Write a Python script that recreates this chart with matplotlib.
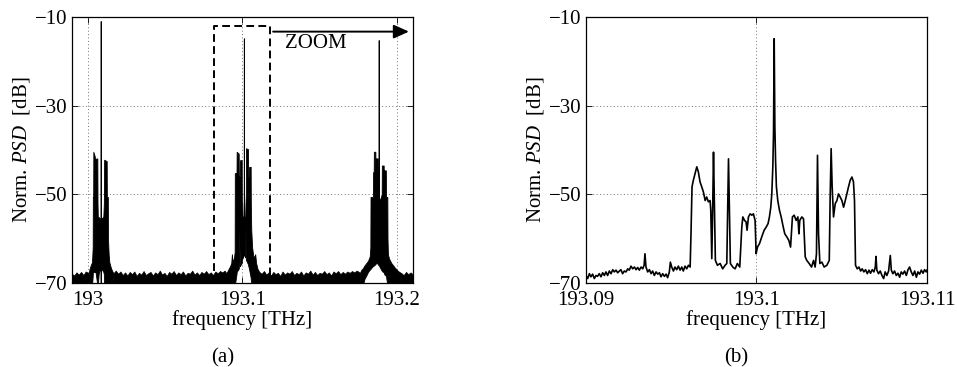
import matplotlib
matplotlib.use("Agg")
import matplotlib.pyplot as plt
import numpy as np

plt.rcParams['font.family'] = ['Liberation Serif', 'DejaVu Serif']
plt.rcParams['mathtext.fontset'] = 'custom'
plt.rcParams['mathtext.rm'] = 'Liberation Serif'
plt.rcParams['mathtext.it'] = 'Liberation Serif:italic'

# ---------------- data ----------------
# Panel (a): frequencies in GHz relative to 193 THz, PSD in dB
A_BASE_THZ = 193.0
# noise floor (top edge of the dense trace) segments: (GHz, dB)
a_floor1 = [(-10.5, -67.9), (-9.0, -68.3), (-7.5, -67.6), (-6.0, -68.1), (-4.5, -67.5),
            (-3.0, -68.2), (-1.5, -67.4), (0.0, -67.7), (0.4, -68.0)]
a_floor2 = [(16.4, -67.8), (18.0, -67.2), (19.5, -67.9), (21.0, -67.4), (22.5, -68.2),
            (24.0, -67.6), (25.5, -68.3), (27.0, -67.5), (28.5, -68.0), (30.0, -67.4),
            (31.5, -68.4), (33.0, -67.7), (34.5, -68.1), (36.0, -67.3), (37.5, -68.2),
            (39.0, -67.8), (40.5, -67.5), (42.0, -68.3), (43.5, -67.6), (45.0, -68.0),
            (46.5, -67.2), (48.0, -68.1), (49.5, -67.7), (51.0, -68.4), (52.5, -67.5),
            (54.0, -67.9), (55.5, -67.3), (57.0, -68.2), (58.5, -67.6), (60.0, -68.0),
            (61.5, -67.4), (63.0, -68.3), (64.5, -67.7), (66.0, -67.9), (67.5, -67.2),
            (69.0, -68.1), (70.5, -67.6), (72.0, -68.2), (73.5, -67.5), (75.0, -67.9),
            (76.5, -67.3), (78.0, -68.0), (79.5, -67.6), (81.0, -68.2), (82.5, -67.4),
            (84.0, -67.8), (85.5, -67.3), (87.0, -67.6), (88.5, -67.2), (89.7, -67.8)]
a_floor3 = [(110.9, -67.5), (112.5, -67.9), (114.0, -67.3), (115.5, -68.1), (117.0, -67.6),
            (118.5, -68.3), (120.0, -67.5), (121.5, -68.0), (123.0, -67.7), (124.5, -68.4),
            (126.0, -67.4), (127.5, -68.1), (129.0, -67.6), (130.5, -67.9), (132.0, -67.3),
            (133.5, -68.2), (135.0, -67.7), (136.5, -68.0), (138.0, -67.4), (139.5, -68.3),
            (141.0, -67.6), (142.5, -67.9), (144.0, -67.2), (145.5, -68.1), (147.0, -67.5),
            (148.5, -68.2), (150.0, -67.7), (151.5, -67.9), (153.0, -67.3), (154.5, -68.0),
            (156.0, -67.6), (157.5, -68.3), (159.0, -67.4), (160.5, -67.8), (162.0, -67.3),
            (163.5, -68.0), (165.0, -67.5), (166.5, -67.9), (168.0, -67.4), (169.5, -67.7),
            (171.0, -67.3), (172.5, -67.6), (174.0, -67.2), (175.5, -67.5), (176.0, -67.8)]
a_floor4 = [(203.0, -67.8), (204.5, -68.2), (206.0, -67.5), (207.5, -68.0), (209.0, -67.6),
            (210.5, -68.1), (211.0, -67.8)]

# channel envelopes: (GHz, upper dB, lower dB)
a_chan1 = [(0.43, -68.0, -70.5), (0.86, -67.0, -70.5), (1.73, -66.0, -70.5), (2.59, -65.3, -70.5),
           (3.02, -62.0, -68.5), (3.13, -50.6, -67.5), (3.35, -50.6, -67.5), (3.45, -40.4, -67.5),
           (4.42, -41.5, -67.5), (4.53, -46.0, -67.5), (4.64, -46.0, -59.0), (4.85, -42.0, -67.5),
           (6.04, -41.9, -70.5), (6.15, -52.0, -70.5), (6.35, -55.1, -70.5), (6.90, -55.1, -68.0),
           (7.55, -55.5, -67.0), (7.77, -55.5, -57.0), (7.94, -55.5, -67.0), (8.11, -55.0, -67.0),
           (8.20, -10.9, -70.5), (8.28, -55.0, -67.0), (9.06, -55.5, -67.0), (9.92, -55.0, -67.5),
           (10.25, -52.0, -68.0), (10.45, -42.2, -70.5), (12.10, -42.5, -70.5), (12.20, -50.6, -70.5),
           (12.83, -50.6, -70.5), (12.94, -60.0, -70.5), (13.37, -63.5, -70.5), (13.80, -65.3, -70.5),
           (14.67, -66.4, -70.5), (15.31, -67.0, -70.5), (16.39, -67.8, -70.5)]
a_chan2 = [(89.7, -67.8, -70.5), (90.8, -67.0, -70.5), (91.9, -66.3, -70.5), (92.8, -65.5, -70.5),
           (93.2, -63.5, -70.5), (93.6, -65.0, -70.5), (94.5, -64.5, -70.5), (95.0, -63.0, -70.5),
           (95.1, -45.2, -70.5), (96.2, -45.2, -68.0), (96.3, -40.4, -67.5), (97.61, -40.8, -66.8),
           (97.72, -46.0, -66.6), (97.93, -46.0, -58.0), (98.37, -46.0, -66.2), (98.47, -42.3, -66.1),
           (99.55, -42.3, -65.5), (99.65, -52.0, -65.2), (99.87, -52.0, -56.0), (100.08, -55.0, -64.5),
           (100.86, -55.0, -63.6), (100.95, -14.8, -63.5), (101.04, -55.0, -63.6), (101.81, -55.0, -64.2),
           (102.03, -52.0, -56.0), (102.25, -50.0, -64.6), (102.35, -39.6, -64.8), (103.64, -39.8, -65.8),
           (103.74, -46.0, -66.0), (104.30, -46.0, -66.8), (104.40, -43.8, -67.0), (105.37, -43.8, -68.8),
           (105.47, -52.0, -69.3), (105.75, -58.0, -70.5), (106.34, -62.0, -70.5), (107.0, -63.8, -70.5),
           (107.6, -64.2, -70.5), (108.3, -63.5, -70.5), (108.9, -65.5, -70.5), (109.8, -66.8, -70.5),
           (110.9, -67.5, -70.5)]
a_chan3 = [(176.0, -67.8, -70.5), (177.1, -67.0, -70.5), (178.0, -66.7, -70.5), (179.2, -66.0, -69.0),
           (180.3, -65.5, -68.3), (181.4, -65.0, -67.5), (182.5, -64.0, -67.0), (182.9, -62.0, -66.9),
           (183.02, -50.6, -66.8), (184.54, -50.6, -66.2), (184.65, -45.0, -66.2), (185.08, -45.0, -66.1),
           (185.18, -40.4, -66.0), (186.15, -40.4, -65.8), (186.26, -46.0, -65.7), (186.37, -46.0, -65.6),
           (186.47, -41.9, -65.5), (187.55, -41.9, -65.6), (187.66, -50.0, -65.7), (188.2, -51.0, -66.0),
           (188.3, -15.2, -66.0), (188.4, -51.0, -66.0), (189.4, -51.0, -66.7), (190.25, -50.0, -67.2),
           (190.35, -43.5, -67.3), (191.55, -43.5, -67.6), (191.66, -47.0, -67.7), (191.77, -47.0, -67.9),
           (191.87, -44.6, -68.0), (192.95, -44.6, -68.4), (193.05, -50.6, -68.5), (193.91, -50.6, -70.5),
           (194.02, -60.0, -70.5), (194.3, -63.5, -70.5), (195.0, -64.5, -70.5), (196.5, -65.5, -70.5),
           (198.7, -66.5, -70.5), (200.8, -67.3, -70.5), (203.0, -67.8, -70.5)]

# zoom box and arrow (THz, dB)
zoom_box_f = [193.0818, 193.1182]
zoom_box_db = [-70.0, -12.0]
zoom_arrow_f = [193.1199, 193.2079]
zoom_arrow_db = -13.3

# Panel (b): frequencies in GHz relative to 193.09 THz, PSD in dB
B_BASE_THZ = 193.09
b_trace = [
    (0.00, -68.3), (0.10, -69.0), (0.20, -67.9), (0.29, -68.6), (0.39, -68.0), (0.49, -69.0),
    (0.59, -68.3), (0.68, -68.5), (0.78, -67.9), (0.88, -68.6), (0.98, -67.7), (1.08, -68.3),
    (1.17, -67.5), (1.27, -68.3), (1.37, -67.3), (1.47, -67.9), (1.57, -67.0), (1.66, -67.5),
    (1.76, -67.1), (1.86, -67.7), (1.96, -67.3), (2.05, -67.0), (2.15, -67.9), (2.25, -67.3),
    (2.35, -67.5), (2.45, -66.8), (2.54, -67.1), (2.64, -66.2), (2.74, -66.8), (2.84, -66.4),
    (2.94, -67.0), (3.03, -66.5), (3.13, -67.1), (3.23, -66.4), (3.33, -66.8), (3.41, -66.0),
    (3.46, -63.4), (3.52, -66.4), (3.62, -67.5), (3.72, -67.0), (3.82, -67.9), (3.91, -67.3),
    (4.01, -68.3), (4.11, -67.5), (4.21, -68.0), (4.31, -67.7), (4.40, -68.6), (4.50, -67.9),
    (4.60, -68.5), (4.70, -68.0), (4.79, -68.8), (4.89, -67.5), (4.95, -65.3), (5.03, -66.4),
    (5.13, -67.3), (5.22, -66.4), (5.32, -67.0), (5.42, -66.2), (5.52, -67.1), (5.62, -66.4),
    (5.71, -67.3), (5.81, -66.2), (5.91, -66.8), (6.01, -66.0), (6.11, -66.4),
    (6.16, -58.9), (6.22, -48.3), (6.30, -46.8), (6.40, -45.3), (6.50, -43.8), (6.59, -44.9),
    (6.69, -47.2), (6.79, -48.3), (6.89, -49.5), (6.99, -51.4), (7.08, -50.6), (7.18, -51.7),
    (7.28, -51.4), (7.32, -53.6), (7.38, -64.5), (7.44, -51.4), (7.48, -40.5), (7.53, -51.4),
    (7.59, -64.9), (7.71, -66.0), (7.87, -65.6), (8.02, -66.8), (8.16, -66.0), (8.26, -65.6),
    (8.32, -51.4), (8.36, -42.0), (8.41, -52.9), (8.47, -65.6), (8.61, -66.4), (8.75, -66.8),
    (8.88, -65.6), (9.02, -66.4), (9.14, -57.4), (9.20, -55.1), (9.30, -55.9), (9.39, -56.2),
    (9.45, -58.1), (9.53, -55.1), (9.63, -54.4), (9.73, -54.7), (9.82, -54.4), (9.92, -55.9),
    (9.98, -63.4), (10.06, -61.9), (10.18, -61.1), (10.31, -59.6), (10.45, -58.1), (10.57, -57.4),
    (10.68, -56.6), (10.76, -55.1), (10.84, -52.9), (10.90, -49.9), (10.96, -43.8), (11.00, -36.3),
    (11.04, -14.9), (11.08, -34.8), (11.12, -42.3), (11.17, -48.3), (11.25, -51.4), (11.35, -53.6),
    (11.45, -55.1), (11.55, -57.0), (11.66, -58.9), (11.78, -59.6), (11.90, -60.4), (12.00, -61.9),
    (12.05, -58.9), (12.11, -55.1), (12.21, -54.7), (12.33, -55.9), (12.43, -55.1), (12.49, -58.9),
    (12.54, -55.9), (12.66, -55.1), (12.76, -55.5), (12.86, -64.1), (12.95, -64.9), (13.09, -65.6),
    (13.23, -66.4), (13.35, -64.9), (13.44, -66.4), (13.52, -63.4), (13.58, -41.2), (13.64, -58.9),
    (13.72, -65.6), (13.84, -65.3), (13.97, -66.4), (14.13, -66.0), (14.27, -64.9), (14.32, -51.4),
    (14.38, -39.7), (14.44, -48.3), (14.52, -55.1), (14.62, -52.1), (14.72, -51.4), (14.81, -49.9),
    (14.91, -50.6), (15.01, -51.4), (15.11, -52.9), (15.21, -51.4), (15.30, -49.9), (15.40, -48.3),
    (15.50, -46.8), (15.60, -46.1), (15.69, -47.2), (15.75, -51.4), (15.81, -66.0),
    (15.91, -66.8), (16.01, -66.4), (16.11, -67.3), (16.20, -66.8), (16.30, -67.5), (16.40, -67.0),
    (16.50, -67.9), (16.60, -67.1), (16.69, -67.8), (16.79, -67.0), (16.89, -67.5), (16.97, -66.4),
    (17.01, -64.0), (17.06, -67.1), (17.16, -67.9), (17.26, -67.3), (17.36, -68.3), (17.46, -69.0),
    (17.55, -67.5), (17.65, -68.3), (17.75, -67.3), (17.85, -63.8), (17.91, -67.1), (18.00, -67.9),
    (18.10, -67.3), (18.20, -68.3), (18.30, -67.8), (18.40, -68.7), (18.49, -67.5), (18.59, -68.0),
    (18.69, -67.3), (18.79, -68.3), (18.89, -67.0), (18.98, -66.4), (19.08, -67.5), (19.18, -68.3),
    (19.28, -67.3), (19.38, -68.7), (19.47, -67.5), (19.57, -68.0), (19.67, -67.1), (19.77, -67.8),
    (19.86, -67.0), (19.96, -67.5), (20.00, -67.1)]

y_ticks = [-70, -50, -30, -10]
y_ticklabels = ['\u221270', '\u221250', '\u221230', '\u221210']
a_xticks = [193.0, 193.1, 193.2]
a_xticklabels = ['193', '193.1', '193.2']
b_xticks = [193.09, 193.1, 193.11]
b_xticklabels = ['193.09', '193.1', '193.11']

FS = 15

# ---------------- figure ----------------
fig = plt.figure(figsize=(9.57, 3.67), dpi=100)
axA = fig.add_axes([0.0752, 0.2289, 0.3563, 0.7248])
axB = fig.add_axes([0.6123, 0.2289, 0.3563, 0.7248])


def style(ax, xticks, xlabels, xlim):
    ax.set_xlim(*xlim)
    ax.set_ylim(-70, -10)
    ax.set_xticks(xticks)
    ax.set_xticklabels(xlabels, fontsize=FS)
    ax.set_yticks(y_ticks)
    ax.set_yticklabels(y_ticklabels, fontsize=FS)
    ax.grid(True, linestyle=(0, (1, 2.5)), color='0.45', linewidth=0.7, zorder=0)
    ax.set_axisbelow(True)
    ax.tick_params(direction='in', length=4, width=0.6, top=True, right=True)
    ax.tick_params(axis='x', pad=6)
    ax.tick_params(axis='y', pad=3)
    for s in ax.spines.values():
        s.set_linewidth(0.9)
        s.set_zorder(5)
    ax.set_xlabel('frequency [THz]', fontsize=FS, labelpad=0)
    ax.set_ylabel(r'Norm. $\mathit{PSD}$  [dB]', fontsize=FS, labelpad=2)


style(axA, a_xticks, a_xticklabels, (192.9896, 193.2105))
style(axB, b_xticks, b_xticklabels, (193.09, 193.11))

# panel (a): floor bands
for seg in (a_floor1, a_floor2, a_floor3, a_floor4):
    g = np.array([p[0] for p in seg])
    top = np.array([p[1] for p in seg])
    f = A_BASE_THZ + g / 1000.0
    axA.fill_between(f, -71.0, top, facecolor='black', edgecolor='black', linewidth=0.5, zorder=2)

# panel (a): channels
for ch in (a_chan1, a_chan2, a_chan3):
    g = np.array([p[0] for p in ch])
    up = np.array([p[1] for p in ch])
    lo = np.array([p[2] for p in ch])
    f = A_BASE_THZ + g / 1000.0
    axA.fill_between(f, lo, up, facecolor='black', edgecolor='black', linewidth=0.6, zorder=2)

# zoom box
bx = [zoom_box_f[0], zoom_box_f[0], zoom_box_f[1], zoom_box_f[1]]
by = [zoom_box_db[0], zoom_box_db[1], zoom_box_db[1], zoom_box_db[0]]
axA.plot(bx, by, color='black', linewidth=1.4, linestyle=(0, (4.0, 2.2)), zorder=4)
axA.annotate('', xy=(zoom_arrow_f[1], zoom_arrow_db), xytext=(zoom_arrow_f[0], zoom_arrow_db),
             arrowprops=dict(arrowstyle='-|>,head_length=0.4,head_width=0.18', lw=1.4,
                             color='black', mutation_scale=23, shrinkA=0, shrinkB=0), zorder=4)
axA.text(193.1275, -15.9, 'ZOOM', fontsize=FS, ha='left', va='center', zorder=4)

# panel (b): trace
gb = np.array([p[0] for p in b_trace])
vb = np.array([p[1] for p in b_trace])
axB.plot(B_BASE_THZ + gb / 1000.0, vb, color='black', linewidth=1.2, zorder=3)

fig.text(223 / 957, 1 - 358 / 367, '(a)', fontsize=FS, ha='center', va='center')
fig.text(736 / 957, 1 - 358 / 367, '(b)', fontsize=FS, ha='center', va='center')

fig.savefig('out.png', dpi=100)
